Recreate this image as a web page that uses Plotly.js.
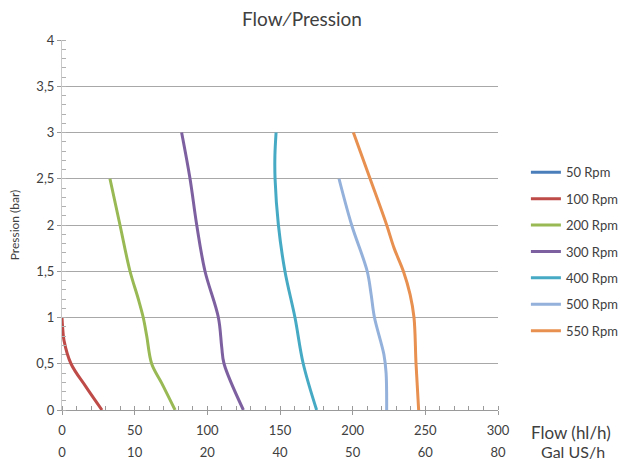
<!DOCTYPE html>
<html>
<head>
<meta charset="utf-8">
<script src="https://cdn.plot.ly/plotly-3.0.1.min.js"></script>
<style>html,body{margin:0;padding:0;background:#fff;}#chart{width:620px;height:460px;}</style>
</head>
<body>
<div id="chart"></div>
<script>
// Series names
var seriesNames = ["50 Rpm", "100 Rpm", "200 Rpm", "300 Rpm", "400 Rpm", "500 Rpm", "550 Rpm"];
// Flow (hl/h) and pressure (bar) per series
var rpm50Flow = [];
var rpm50Pres = [];
var rpm100Flow = [0, 0.4, 1.4, 6.2, 16.5, 27.5];
var rpm100Pres = [1, 0.9, 0.75, 0.5, 0.25, 0];
var rpm200Flow = [33, 39.9, 46.8, 52.5, 55.9, 58.3, 61.7, 68.6, 77.8];
var rpm200Pres = [2.5, 2, 1.5, 1.2, 1, 0.8, 0.5, 0.29, 0];
var rpm300Flow = [82.3, 88.1, 92.7, 98.4, 107.6, 109.9, 111.5, 124.8];
var rpm300Pres = [3, 2.5, 2, 1.5, 1, 0.68, 0.5, 0];
var rpm400Flow = [147.3, 146.5, 146.6, 148.9, 153.4, 160.3, 166, 175.2];
var rpm400Pres = [3, 2.75, 2.5, 2, 1.5, 1, 0.5, 0];
var rpm500Flow = [190.6, 199.3, 210, 212.7, 215, 221.5, 223, 223.4];
var rpm500Pres = [2.5, 2, 1.5, 1.25, 1, 0.6, 0.4, 0];
var rpm550Flow = [200.5, 212, 223.4, 228.5, 234.9, 239.5, 242.2, 243.6, 245.4];
var rpm550Pres = [3, 2.5, 2, 1.75, 1.5, 1.25, 1, 0.5, 0];
var seriesColors = ["#4A7EBB", "#BE4B48", "#98B954", "#7D60A0", "#46AAC5", "#93B1DB", "#E8904F"];
// Axis tick labels
var flowTicks = [0, 50, 100, 150, 200, 250, 300];
var galTickText = ["0", "10", "20", "40", "50", "60", "80"];

var flows = [rpm50Flow, rpm100Flow, rpm200Flow, rpm300Flow, rpm400Flow, rpm500Flow, rpm550Flow];
var press = [rpm50Pres, rpm100Pres, rpm200Pres, rpm300Pres, rpm400Pres, rpm500Pres, rpm550Pres];

var traces = seriesNames.map(function (n, i) {
  return {
    type: "scatter", mode: "lines", name: n,
    x: flows[i].length ? flows[i] : [null],
    y: press[i].length ? press[i] : [null],
    line: {color: seriesColors[i], width: 3, shape: "spline", smoothing: 1.0},
    legendgroup: "g" + i,
    hoverinfo: "skip"
  };
});
// dummy trace for second (Gal US/h) axis labels
traces.push({type: "scatter", x: [0, 300], y: [null, null], xaxis: "x2", yaxis: "y", showlegend: false, hoverinfo: "skip", mode: "lines"});

var txt = "#404040";
var layout = {
  width: 620, height: 460,
  margin: {l: 62, r: 122, t: 40, b: 50, pad: 0, autoexpand: false},
  paper_bgcolor: "#fff", plot_bgcolor: "#fff",
  separators: ", ",
  font: {family: "Lato, 'Open Sans', sans-serif", color: txt, size: 13},
  title: {text: "Flow∕Pression", x: 0.487, xanchor: "center", y: 0.957, yanchor: "middle", font: {size: 19, color: txt}},
  showlegend: true,
  legend: {x: 1.064, xanchor: "left", y: 0.683, yanchor: "top", tracegroupgap: 6.5, font: {size: 13, color: txt}, itemwidth: 30, bgcolor: "rgba(0,0,0,0)"},
  xaxis: {
    range: [0, 300], tickvals: flowTicks, showgrid: false, zeroline: false,
    showline: true, linecolor: "#9a9a9a", linewidth: 1,
    ticks: "outside", ticklen: 4, tickcolor: "#9a9a9a",
    minor: {dtick: 10, ticks: "inside", ticklen: 4, tickcolor: "#9a9a9a", showgrid: false},
    tickfont: {size: 13, color: txt}, ticklabelstandoff: 4, fixedrange: true
  },
  xaxis2: {
    overlaying: "x", side: "bottom", anchor: "y", range: [0, 300],
    tickvals: flowTicks, ticktext: galTickText, showgrid: false, zeroline: false,
    showline: false, ticks: "", tickfont: {size: 13, color: txt}, ticklabelstandoff: 33
  },
  yaxis: {
    range: [0, 4], dtick: 0.5, tick0: 0, showgrid: true, gridcolor: "#a8a8a8", gridwidth: 1,
    zeroline: false, showline: true, linecolor: "#c8c8c8", linewidth: 1,
    ticks: "outside", ticklen: 4, tickcolor: "#9a9a9a",
    minor: {dtick: 0.1, ticks: "inside", ticklen: 4, tickcolor: "#b0b0b0", showgrid: false},
    tickfont: {size: 13, color: txt},
    title: {text: "Pression (bar)", font: {size: 12, color: txt}, standoff: 14},
    fixedrange: true
  },
  annotations: [
    {text: "Flow (hl/h)", xref: "paper", yref: "paper", x: 1.07, y: -0.06, xanchor: "left", yanchor: "middle", showarrow: false, font: {size: 17, color: txt}},
    {text: "Gal US/h", xref: "paper", yref: "paper", x: 1.094, y: -0.112, xanchor: "left", yanchor: "middle", showarrow: false, font: {size: 16, color: txt}}
  ]
};
Plotly.newPlot("chart", traces, layout, {displayModeBar: false, staticPlot: true});
</script>
</body>
</html>
